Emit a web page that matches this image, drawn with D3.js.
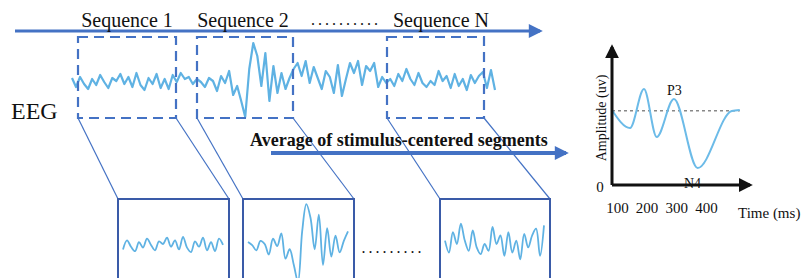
<!DOCTYPE html>
<html>
<head>
<meta charset="utf-8">
<script src="https://cdn.jsdelivr.net/npm/d3@7"></script>
<style>
  html, body { margin: 0; padding: 0; background: #fff; }
  text { font-family: "Liberation Serif", "DejaVu Serif", serif; }
</style>
</head>
<body>
<svg id="diagram" width="804" height="278"></svg>
<script>
// Raw EEG trace, one sample every 4px, amplitude in px (up = positive)
const eegSeg1 = [3, -6, 4, -3, -8, 2, -4, 6, -1, -7, 3, 0, 7, -3, 4, -6, 8, -4, -9, 3, -3, 7, -7, 2, -8, 6, -1];
const eegSeg2 = [8, 2, 4, -3, 2, -1, -6, 3, 0, -10, 5, -2, 10, -14, -5,
                 -20, -36, 12, 38, 25, -5, 28, -20, 15, -12, 8, -8, 3, 12];
const eegSeg3 = [18, 5, 20, -2, 14, 3, -8, 10, 4, -12, 16, -15, 2, 18, 8, 20, -4, 15, 10, 18, -6, 4, -2];
const eegSegN = [2, -5, 7, 0, 12, 2, -4, 8, -2, -6, 0, -4, 10, 0, 5, -7, 7, -5, 2, -9, 6, -2, 5, 9, -7, 11, -9];
const eeg = eegSeg1.concat(eegSeg2, eegSeg3, eegSegN);

// Sequence labels and which samples each window covers
const seqLabels = ["Sequence 1", "Sequence 2", "Sequence N"];
const seqWindows = [[1, 26], [31, 55], [79, 104]];

// Averaged ERP (time in ms, amplitude in uv-ish units)
const erpTime = [83, 144, 191, 234, 292, 372, 487, 514];
const erpAmp = [5.36, 4.07, 6.86, 3.43, 6.14, 1.21, 5.29, 5.36];
const erpBaseline = 5.3;
const timeTicks = [100, 200, 300, 400];

const blue = "#4472c4";
const wave = "#5fb2e3";

const svg = d3.select("#diagram");

// arrow heads
const defs = svg.append("defs");
function addMarker(id, color, w, h) {
  defs.append("marker")
    .attr("id", id)
    .attr("viewBox", "0 0 10 10")
    .attr("refX", 8).attr("refY", 5)
    .attr("markerWidth", w).attr("markerHeight", h)
    .attr("markerUnits", "userSpaceOnUse")
    .attr("orient", "auto")
    .append("path")
    .attr("d", "M0,0 L10,5 L0,10 Z")
    .attr("fill", color);
}
addMarker("headBlue", blue, 16, 14);
addMarker("headBlack", "#111", 14, 14);

// ---- top timeline ----
svg.append("line")
  .attr("x1", 15).attr("y1", 31).attr("x2", 540).attr("y2", 31)
  .attr("stroke", blue).attr("stroke-width", 3)
  .attr("marker-end", "url(#headBlue)");

const labelX = [127, 243, 441];
seqLabels.forEach((t, i) => {
  svg.append("text")
    .attr("x", labelX[i]).attr("y", 27)
    .attr("text-anchor", "middle")
    .attr("font-size", 20)
    .attr("fill", "#111")
    .text(t);
});
svg.append("text")
  .attr("x", 346).attr("y", 25).attr("text-anchor", "middle")
  .attr("font-size", 16).attr("letter-spacing", 3).attr("fill", "#111")
  .text("..........");

svg.append("text")
  .attr("x", 11).attr("y", 119)
  .attr("font-size", 24).attr("fill", "#111")
  .text("EEG");

// ---- continuous EEG ----
const xTop = d3.scaleLinear().domain([0, eeg.length - 1]).range([72, 495]);
const yTop = d3.scaleLinear().domain([-40, 40]).range([121, 41]);

svg.append("path")
  .datum(eeg)
  .attr("d", d3.line().x((d, i) => xTop(i)).y(d => yTop(d)))
  .attr("fill", "none")
  .attr("stroke", wave)
  .attr("stroke-width", 2.2)
  .attr("stroke-linejoin", "round");

// dashed windows
const winBoxes = [[78, 176], [197, 293], [387, 484]];
winBoxes.forEach(b => {
  svg.append("rect")
    .attr("x", b[0]).attr("y", 37)
    .attr("width", b[1] - b[0]).attr("height", 81)
    .attr("fill", "none")
    .attr("stroke", blue).attr("stroke-width", 2.2)
    .attr("stroke-dasharray", "10,6");
});

// ---- zoomed segments ----
const lowBoxes = [[118, 229], [243, 354], [440, 550]];
const lowGain = [0.9, 1.05, 1.7];
const lowTop = 199;

lowBoxes.forEach((b, i) => {
  const w = winBoxes[i];
  svg.append("line")
    .attr("x1", w[0]).attr("y1", 118).attr("x2", b[0]).attr("y2", lowTop)
    .attr("stroke", blue).attr("stroke-width", 1.2);
  svg.append("line")
    .attr("x1", w[1]).attr("y1", 118).attr("x2", b[1]).attr("y2", lowTop)
    .attr("stroke", blue).attr("stroke-width", 1.2);

  svg.append("rect")
    .attr("x", b[0]).attr("y", lowTop)
    .attr("width", b[1] - b[0]).attr("height", 120)
    .attr("fill", "none")
    .attr("stroke", "#3a5ba8").attr("stroke-width", 2);

  const seg = eeg.slice(seqWindows[i][0], seqWindows[i][1] + 1);
  const xs = d3.scaleLinear().domain([0, seg.length - 1]).range([b[0] + 5, b[1] - 6]);
  const ys = d3.scaleLinear().domain([-40, 40]).range([244 + 40 * lowGain[i], 244 - 40 * lowGain[i]]);
  svg.append("path")
    .datum(seg)
    .attr("d", d3.line().x((d, j) => xs(j)).y(d => ys(d)).curve(d3.curveCatmullRom))
    .attr("fill", "none")
    .attr("stroke", wave)
    .attr("stroke-width", 1.8)
    .attr("stroke-linejoin", "round");
});

svg.append("text")
  .attr("x", 393).attr("y", 253).attr("text-anchor", "middle")
  .attr("font-size", 16).attr("letter-spacing", 3).attr("fill", "#111")
  .text(".........");

// ---- averaging arrow ----
svg.append("text")
  .attr("x", 250).attr("y", 146)
  .attr("font-size", 18).attr("font-weight", "bold").attr("fill", "#111")
  .text("Average of stimulus-centered segments");
svg.append("line")
  .attr("x1", 271).attr("y1", 153).attr("x2", 566).attr("y2", 153)
  .attr("stroke", blue).attr("stroke-width", 4)
  .attr("marker-end", "url(#headBlue)");

// ---- ERP panel ----
const x = d3.scaleLinear().domain([0, 560]).range([587.3, 753.4]);
const y = d3.scaleLinear().domain([0, 10]).range([185, 45]);
const x0 = 612;

// dashed baseline
svg.append("line")
  .attr("x1", x0).attr("x2", x(514))
  .attr("y1", y(erpBaseline)).attr("y2", y(erpBaseline))
  .attr("stroke", "#888").attr("stroke-width", 1.5)
  .attr("stroke-dasharray", "3,3");

// ERP curve
const erp = erpTime.map((t, i) => ({ t, a: erpAmp[i] }));
svg.append("path")
  .datum(erp)
  .attr("d", d3.line().x(d => x(d.t)).y(d => y(d.a)).curve(d3.curveMonotoneX))
  .attr("fill", "none")
  .attr("stroke", "#6cbbe8")
  .attr("stroke-width", 2);

// axes
svg.append("line")
  .attr("x1", x0).attr("y1", y(0)).attr("x2", x0).attr("y2", 47)
  .attr("stroke", "#111").attr("stroke-width", 3)
  .attr("marker-end", "url(#headBlack)");
svg.append("line")
  .attr("x1", x0).attr("y1", y(0)).attr("x2", 750).attr("y2", y(0))
  .attr("stroke", "#111").attr("stroke-width", 3)
  .attr("marker-end", "url(#headBlack)");

const xAxis = svg.append("g")
  .attr("transform", `translate(0,${y(0)})`)
  .call(d3.axisBottom(x).tickValues(timeTicks).tickSize(0).tickPadding(17));
xAxis.select(".domain").remove();
xAxis.selectAll("text")
  .attr("font-family", "Liberation Serif, serif")
  .attr("font-size", 15)
  .attr("fill", "#111");

svg.append("text")
  .attr("x", 600).attr("y", 192).attr("text-anchor", "middle")
  .attr("font-size", 15).attr("fill", "#111").text("0");

svg.append("text")
  .attr("transform", "translate(606,118) rotate(-90)")
  .attr("text-anchor", "middle")
  .attr("font-size", 14).attr("fill", "#111")
  .text("Amplitude (uv)");

svg.append("text")
  .attr("x", 738).attr("y", 218)
  .attr("font-size", 15).attr("fill", "#111")
  .text("Time (ms)");

svg.append("text")
  .attr("x", 667).attr("y", 95)
  .attr("font-size", 14).attr("fill", "#111").text("P3");
svg.append("text")
  .attr("x", 684).attr("y", 188)
  .attr("font-size", 14).attr("fill", "#111").text("N4");
</script>
</body>
</html>
